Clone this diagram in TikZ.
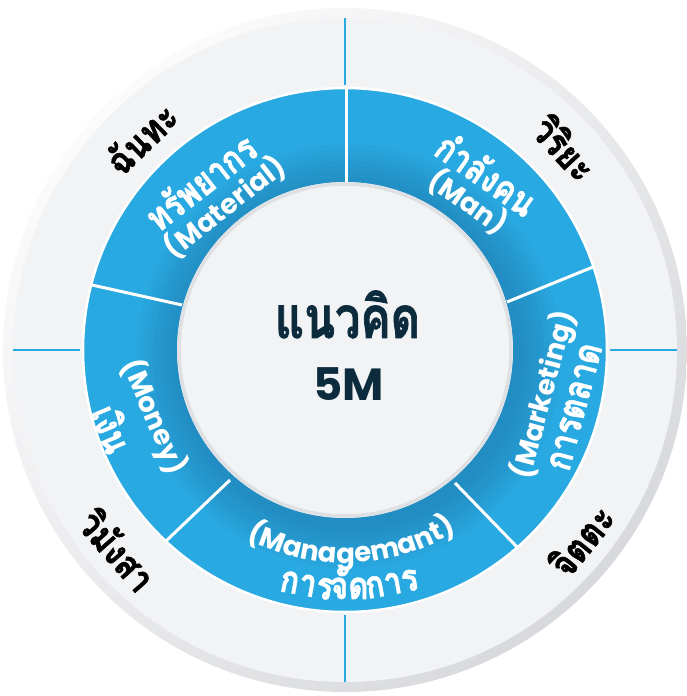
\documentclass[tikz,border=0pt]{standalone}
\usepackage{fontspec}
\newfontfamily\thaifont[Script=Thai,BoldFeatures={FakeBold=1.5}]{Loma}
\newfontfamily\latinfont{Poppins}
\usetikzlibrary{decorations.text}
\definecolor{ringblue}{HTML}{29A9E1}
\definecolor{shadeblue}{HTML}{1A6E9E}
\definecolor{discgray}{HTML}{F2F3F5}
\definecolor{rimlight}{HTML}{FBFBFC}
\definecolor{rimdark}{HTML}{D8D9DC}
\definecolor{navy}{HTML}{0C2B3C}
\definecolor{innerline}{HTML}{DFE0E3}
\newcommand\mgfont{\latinfont\bfseries\fontsize{27.5pt}{27.5pt}\selectfont}
\begin{document}
\begin{tikzpicture}[x=1pt,y=1pt,
  outerlbl/.style={font=\thaifont\bfseries\fontsize{38pt}{38pt}\selectfont, text=black, inner sep=0pt},
  ringthai/.style={font=\thaifont\bfseries\fontsize{38pt}{38pt}\selectfont, text=white, inner sep=0pt},
  ringlatin/.style={font=\latinfont\bfseries\fontsize{27.5pt}{27.5pt}\selectfont, text=white, inner sep=0pt},
  narrow/.style={xscale=0.82},
  divider/.style={white, line width=3pt},
  tickline/.style={ringblue, line width=2.2pt}]
\useasboundingbox (-345,-346) rectangle (342,350);
\fill[white] (-345,-346) rectangle (342,350);
% outer disc with rim
\shade[top color=rimlight, bottom color=rimdark, shading angle=45] (0,0) circle (342pt);
\fill[discgray] (0,0) circle (332pt);
% blue ticks in the grey ring
\foreach \a/\n in {90/t,180/l,0/r,270/b}{
  \coordinate (tk\n1) at (\a:265pt);
  \coordinate (tk\n2) at (\a:332pt);
  \draw[tickline] (tk\n1) -- (tk\n2);
}
% blue ring
\fill[ringblue] (0,0) circle (262pt);
\begin{scope}
  \clip (0,0) circle (262pt);
  \foreach \i in {1,...,8}
    \fill[shadeblue, opacity=0.065] (4,-6) circle[radius={168+5.5*\i}];
\end{scope}
\draw[white, line width=2.5pt] (0,0) circle (262pt);
% dividers
\coordinate (dva1) at (2,168);   \coordinate (dva2) at (2,261);
\coordinate (dvb1) at (162,48);  \coordinate (dvb2) at (248,83);
\coordinate (dvc1) at (110,-133);\coordinate (dvc2) at (173,-198);
\coordinate (dvd1) at (-115,-130);\coordinate (dvd2) at (-180,-192);
\coordinate (dve1) at (-163,45); \coordinate (dve2) at (-253,65);
\foreach \n in {a,b,c,d,e} \draw[divider] (dv\n1) -- (dv\n2);
% inner disc
\fill[discgray] (0,0) circle (168pt);
\draw[innerline, line width=3.5pt] (0,0) circle (166pt);
% centre title
\node[font=\thaifont\bfseries\fontsize{58pt}{58pt}\selectfont, text=navy, anchor=base, inner sep=0pt, xscale=0.78] (title) at (2.5,12) {แนวคิด};
\node[font=\latinfont\bfseries\fontsize{45pt}{45pt}\selectfont, text=navy, anchor=base, inner sep=0pt] (sub) at (3.5,-50) {5M};
% outer labels
\node[outerlbl, rotate=44, xscale=0.85] (chanta) at (-204,212) {ฉันทะ};
\node[outerlbl, rotate=-47, xscale=0.85] (viriya) at (220,202) {วิริยะ};
\node[outerlbl, rotate=51, xscale=0.85] (chitta) at (236,-190) {จิตตะ};
\node[outerlbl, rotate=-48.6, xscale=0.85] (vimangsa) at (-227,-200) {วิมังสา};
% ring labels
\node[ringthai, rotate=38, narrow] (matth) at (-145,168.5) {ทรัพยากร};
\node[ringlatin, rotate=38] (maten) at (-120,143) {(Material)};
\node[ringthai, rotate=-35, narrow] (manth) at (142,176.5) {กำลังคน};
\node[ringlatin, rotate=-35] (manen) at (123,148) {(Man)};
\node[ringlatin, rotate=75] (mkten) at (199,-45) {(Marketing)};
\node[ringthai, rotate=75, narrow] (mktth) at (230.5,-57) {การตลาด};
\node[ringlatin, rotate=-67] (monen) at (-191,-67) {(Money)};
\node[ringthai, rotate=-67, narrow] (month) at (-232.5,-78.5) {เงิน};
% management, curved
\path[decorate, decoration={text along path, text={|\mgfont|(Managemant)}, text color=white, text align=center}]
  (-140:213pt) arc[start angle=-140, end angle=-36, radius=213pt];
\node[ringthai, anchor=base, rotate=-10.3, narrow] (mgth1) at (-99.3:249pt) {การ};
\node[ringthai, anchor=base, rotate=0, narrow] (mgth2) at (-89:249pt) {จัด};
\node[ringthai, anchor=base, rotate=10.3, narrow] (mgth3) at (-78.7:249pt) {การ};
\end{tikzpicture}
\end{document}
